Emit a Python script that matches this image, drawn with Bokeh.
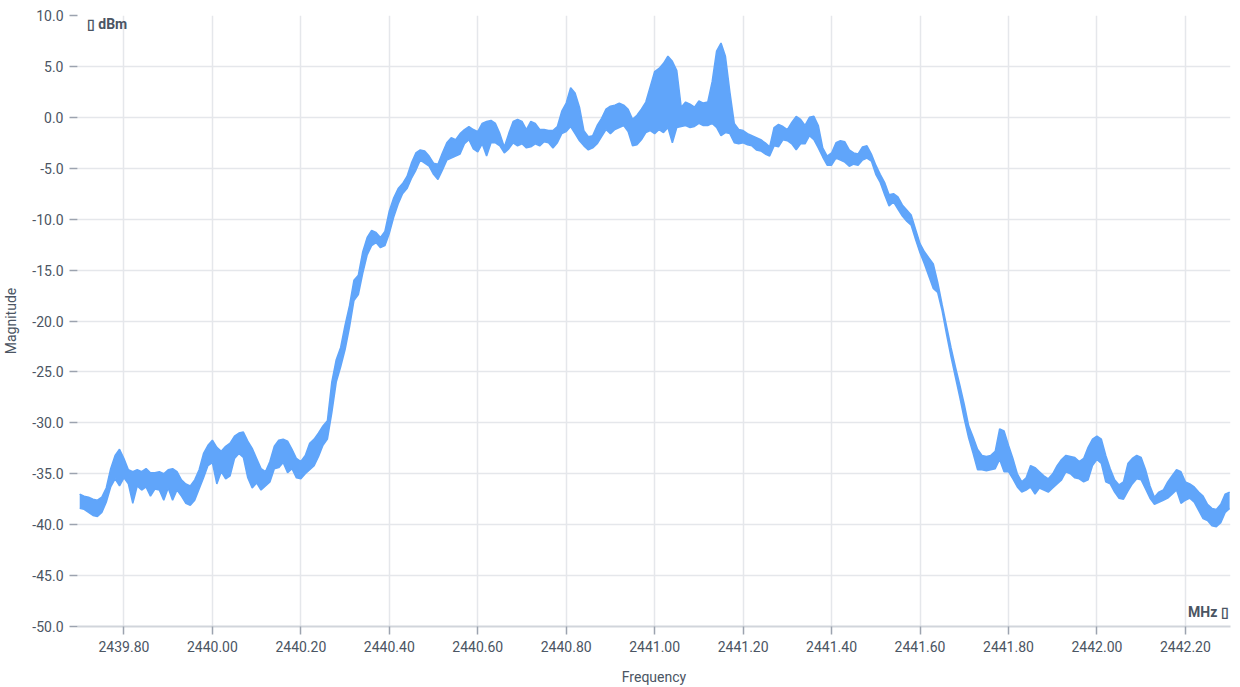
from bokeh.plotting import figure
from bokeh.models import FixedTicker, PrintfTickFormatter, Label, Range1d
from bokeh.embed import file_html
from bokeh.resources import INLINE

# Frequency grid (MHz): start and step of the sampled spectrum
freq_start = 2439.70
freq_step = 0.01

# Upper envelope of the noisy trace (dBm), one value per 0.01 MHz
mag_hi = [
    -37.0, -37.2, -37.3, -37.5, -37.6, -37.3, -36.4, -34.5, -33.2, -32.6,
    -33.5, -34.6, -34.8, -34.6, -34.8, -34.5, -34.9, -34.9, -34.8, -35.0,
    -34.6, -34.5, -34.8, -35.6, -36.0, -36.2, -35.6, -34.6, -33.0, -32.2,
    -31.7, -32.4, -32.8, -32.3, -32.0, -31.3, -31.0, -30.9, -31.8, -32.5,
    -33.5, -34.5, -34.8, -33.8, -32.3, -31.7, -31.6, -31.8, -32.6, -33.5,
    -33.8, -33.2, -32.0, -31.6, -31.0, -30.3, -29.8, -26.0, -23.8, -22.6,
    -20.4, -18.5, -16.0, -15.5, -13.2, -11.8, -11.1, -11.3, -11.8, -11.2,
    -9.2, -7.9, -7.0, -6.5, -5.8, -4.5, -3.5, -3.2, -3.3, -3.8,
    -4.5, -4.6, -3.5, -2.5, -2.0, -2.2, -1.6, -1.2, -0.9, -1.2,
    -1.4, -0.6, -0.4, -0.3, -0.6, -1.6, -2.9, -1.6, -0.4, -0.2,
    -0.4, -1.2, -0.4, -0.6, -1.2, -1.2, -1.3, -1.3, -0.9, 0.6,
    1.4, 2.9, 2.4, 1.0, -1.3, -1.9, -1.8, -0.8, -0.1, 0.8,
    1.1, 1.2, 1.4, 1.2, 0.8, -0.2, 0.2, 0.8, 1.5, 3.0,
    4.5, 4.8, 5.3, 6.0, 5.5, 4.6, 1.0, 1.5, 1.3, 1.0,
    1.6, 1.4, 1.5, 3.5, 6.5, 7.3, 6.0, 2.5, -0.6, -1.2,
    -1.3, -1.6, -1.8, -2.0, -2.2, -2.5, -2.9, -1.0, -0.7, -0.9,
    -1.2, -0.5, 0.1, -0.2, -0.8, 0.0, 0.1, -0.8, -3.0, -3.8,
    -3.5, -2.5, -2.3, -2.4, -3.2, -3.5, -3.6, -2.9, -2.8, -3.6,
    -4.7, -5.6, -6.4, -7.6, -7.5, -7.8, -8.6, -9.1, -9.6, -11.0,
    -12.4, -13.2, -13.8, -14.4, -16.2, -18.4, -20.5, -22.6, -24.5, -26.3,
    -28.2, -30.3, -31.4, -32.6, -33.2, -33.3, -33.2, -32.8, -30.6, -30.8,
    -32.2, -33.5, -35.0, -35.8, -35.4, -34.2, -34.4, -34.8, -35.2, -35.5,
    -35.0, -34.2, -33.6, -33.2, -33.3, -33.4, -33.8, -33.5, -32.4, -31.6,
    -31.3, -31.6, -33.2, -34.5, -35.6, -36.1, -35.8, -34.0, -33.5, -33.2,
    -33.4, -34.6, -36.2, -37.3, -36.8, -36.6, -35.8, -35.2, -34.6, -34.8,
    -35.8, -36.0, -36.3, -36.8, -37.2, -38.0, -38.4, -38.5, -38.0, -37.0,
    -36.8,
]

# Lower envelope of the noisy trace (dBm)
mag_lo = [
    -38.4, -38.5, -38.8, -39.1, -39.2, -38.8, -37.8, -36.3, -35.5, -36.2,
    -35.4, -36.0, -37.9, -36.2, -36.6, -36.3, -37.2, -36.5, -36.6, -37.6,
    -36.4, -37.6, -36.6, -37.2, -37.9, -38.1, -37.6, -36.5, -35.4, -34.2,
    -33.9, -36.0, -34.8, -35.5, -35.2, -33.5, -33.0, -33.4, -35.4, -36.4,
    -35.9, -36.6, -36.2, -35.8, -34.5, -34.4, -33.9, -34.9, -34.5, -35.4,
    -35.5, -35.0, -34.6, -34.2, -33.3, -32.2, -31.6, -29.0, -26.0, -24.5,
    -22.8, -20.6, -18.0, -17.4, -15.3, -13.5, -12.6, -12.3, -12.8, -12.6,
    -11.4, -9.8, -8.5, -7.5, -7.0, -6.0, -5.2, -4.2, -4.5, -4.8,
    -5.6, -6.1, -5.2, -4.2, -4.0, -3.8, -3.6, -2.6, -2.2, -3.1,
    -3.4, -2.6, -3.8, -2.5, -2.5, -2.8, -3.5, -3.1, -2.5, -2.8,
    -2.6, -3.0, -2.9, -2.6, -2.8, -2.4, -2.5, -3.0, -2.5, -1.6,
    -1.4, -0.9, -1.6, -2.3, -2.8, -3.2, -3.0, -2.6, -1.9, -1.2,
    -1.6, -1.2, -1.0, -0.8, -1.4, -2.8, -2.7, -2.2, -1.5, -1.3,
    -1.6, -1.2, -1.5, -1.0, -2.5, -1.0, -0.9, -0.8, -1.0, -0.9,
    -0.6, -0.8, -0.8, -0.6, -1.0, -1.8, -1.5, -1.6, -2.5, -2.6,
    -2.5, -2.7, -2.8, -3.2, -3.3, -3.6, -3.8, -2.8, -2.9, -2.2,
    -2.3, -2.6, -3.2, -2.6, -2.6, -1.8, -2.2, -3.0, -3.9, -4.7,
    -4.7, -4.0, -4.2, -4.4, -4.8, -4.6, -4.7, -4.2, -4.0, -4.3,
    -5.6, -6.4, -7.6, -8.7, -8.3, -9.0, -9.7, -10.2, -10.6, -12.0,
    -13.3, -14.4, -15.6, -16.8, -17.2, -19.0, -21.3, -23.5, -25.5, -27.5,
    -29.6, -31.5, -33.0, -34.6, -34.6, -34.7, -34.6, -34.5, -33.6, -34.8,
    -34.8, -35.5, -36.3, -36.8, -36.6, -36.3, -37.0, -36.4, -36.6, -36.8,
    -36.4, -36.0, -35.6, -34.8, -35.0, -35.4, -35.5, -35.8, -35.6, -34.2,
    -33.6, -34.0, -35.8, -36.0, -36.8, -37.4, -37.5, -36.7, -36.0, -35.5,
    -35.6, -36.5, -37.4, -38.0, -37.8, -37.6, -37.4, -37.0, -36.6, -37.9,
    -37.6, -37.4, -37.8, -38.6, -39.4, -39.6, -40.1, -40.2, -39.8, -38.8,
    -38.4,
]

x_ticks = [2439.80, 2440.00, 2440.20, 2440.40, 2440.60, 2440.80, 2441.00,
           2441.20, 2441.40, 2441.60, 2441.80, 2442.00, 2442.20]
y_ticks = [-50, -45, -40, -35, -30, -25, -20, -15, -10, -5, 0, 5, 10]

freq = [round(freq_start + i * freq_step, 3) for i in range(len(mag_hi))]

BLUE = "#60a5fa"
TXT = "#4b5563"
FONT = "Roboto"

p = figure(width=1232, height=687, output_backend="svg", toolbar_location=None,
           x_range=Range1d(2439.695, 2442.302), y_range=Range1d(-50, 10),
           min_border_left=69, min_border_top=15, min_border_bottom=60, min_border_right=2)
p.outline_line_color = None
p.background_fill_color = "white"
p.border_fill_color = "white"

p.varea(x=freq, y1=mag_lo, y2=mag_hi, fill_color=BLUE)
p.line(x=freq, y=mag_hi, line_color=BLUE, line_width=1.5)
p.line(x=freq, y=mag_lo, line_color=BLUE, line_width=1.5)

p.xaxis.ticker = FixedTicker(ticks=x_ticks)
p.yaxis.ticker = FixedTicker(ticks=y_ticks)
p.xaxis.formatter = PrintfTickFormatter(format="%.2f")
p.yaxis.formatter = PrintfTickFormatter(format="%.1f")
p.xaxis.minor_tick_line_color = None
p.yaxis.minor_tick_line_color = None

for ax in (p.xaxis, p.yaxis):
    ax.major_tick_in = 0
    ax.major_tick_out = 8
    ax.major_tick_line_color = "#9ca3af"
    ax.major_tick_line_width = 1.5
    ax.major_label_text_font = FONT
    ax.major_label_text_font_size = "14px"
    ax.major_label_text_color = TXT
    ax.axis_label_text_font = FONT
    ax.axis_label_text_font_size = "14px"
    ax.axis_label_text_color = TXT
    ax.axis_label_text_font_style = "normal"

p.xaxis.axis_line_color = "#d1d5db"
p.xaxis.axis_line_width = 2
p.yaxis.axis_line_color = None
p.xaxis.major_label_standoff = 6
p.yaxis.major_label_standoff = 6
p.xaxis.axis_label = "Frequency"
p.yaxis.axis_label = "Magnitude"
p.xaxis.axis_label_standoff = 14
p.yaxis.axis_label_standoff = 10

p.xgrid.grid_line_color = "#e5e7eb"
p.ygrid.grid_line_color = "#e5e7eb"
p.xgrid.grid_line_width = 1.5
p.ygrid.grid_line_width = 1.5

p.add_layout(Label(x=2439.716, y=9.2, text="\u25af dBm", text_font=FONT,
                   text_font_size="14px", text_font_style="bold",
                   text_color=TXT, text_baseline="middle"))
p.add_layout(Label(x=2442.298, y=-48.6, text="MHz \u25af", text_font=FONT,
                   text_font_size="14px", text_font_style="bold",
                   text_color=TXT, text_baseline="middle", text_align="right"))

open("out.html", "w").write(file_html(p, INLINE))
